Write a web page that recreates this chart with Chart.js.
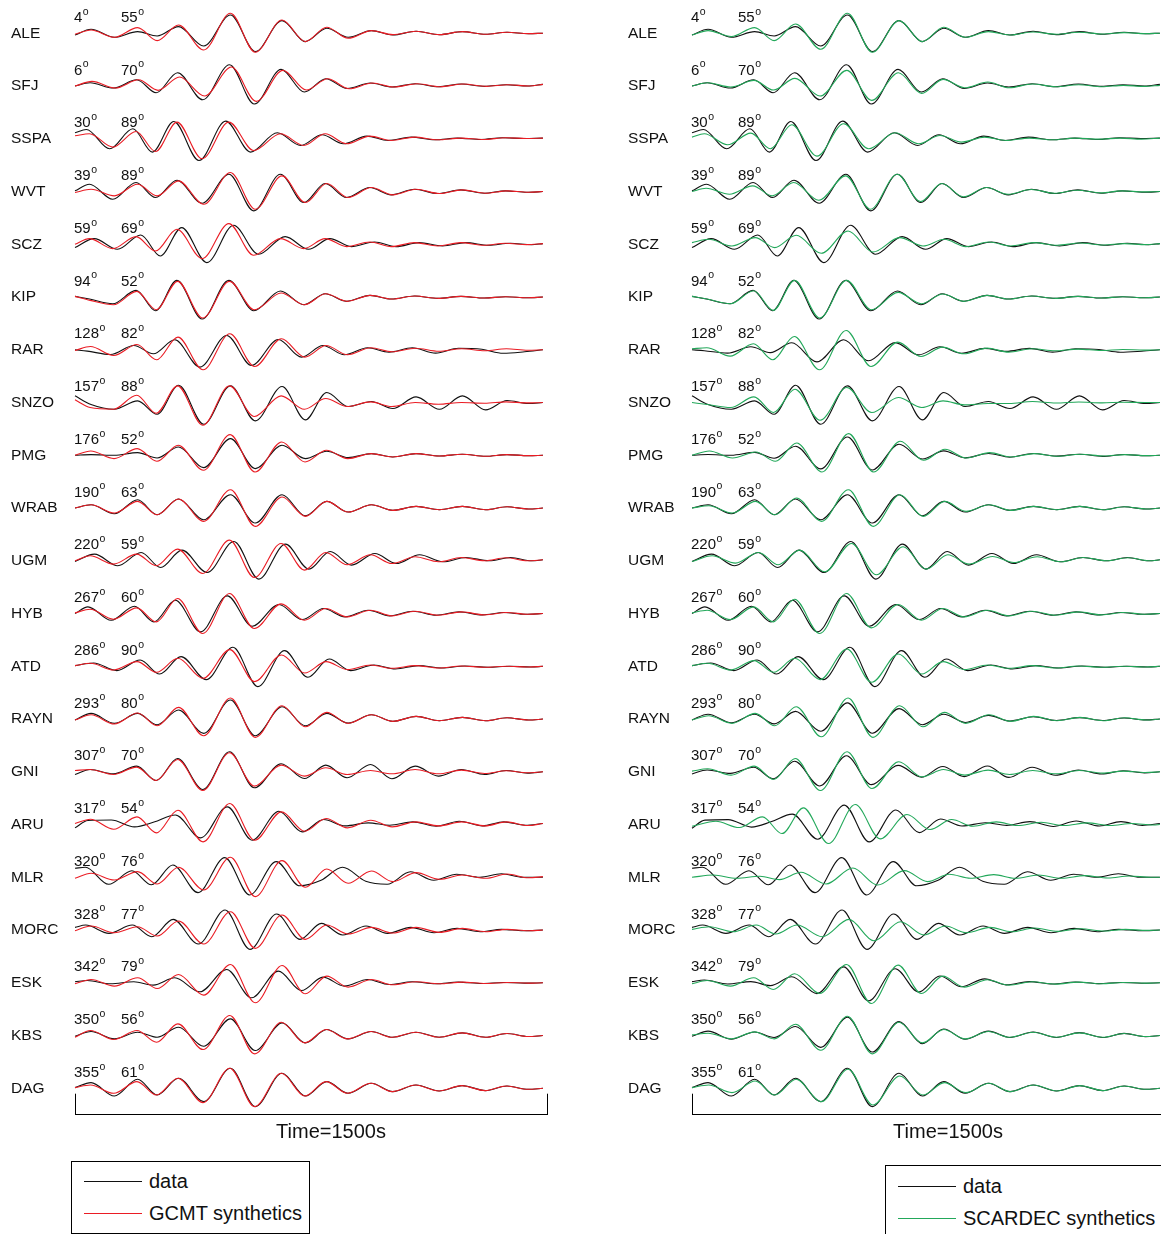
<!DOCTYPE html>
<html>
<head>
<meta charset="utf-8">
<script src="https://cdn.jsdelivr.net/npm/chart.js@4.4.1/dist/chart.umd.min.js"></script>
<style>
  html, body { margin: 0; padding: 0; background: #fff; }
  body { width: 1161px; height: 1234px; position: relative; overflow: hidden;
         font-family: 'Liberation Sans', Arial, Helvetica, sans-serif; color: #111; }
  canvas { position: absolute; top: 0; }
  #gcmtChart { left: 0; }
  #scardecChart { left: 617px; }
  .legend-box { position: absolute; border: 1px solid #000; background: #fff; }
  .legend-line { position: absolute; height: 0; border-top: 1px solid; }
  .legend-text { position: absolute; font-size: 20px; line-height: 22px; white-space: nowrap; }
</style>
</head>
<body>
<canvas id="gcmtChart" width="560" height="1234"></canvas>
<canvas id="scardecChart" width="560" height="1234"></canvas>

<div class="legend-box" style="left:71px;top:1161px;width:237px;height:71px">
  <div class="legend-line" style="left:12px;top:19px;width:58px;border-color:#111"></div>
  <div class="legend-text" style="left:77px;top:8px">data</div>
  <div class="legend-line" style="left:12px;top:51px;width:58px;border-color:#ea1c24"></div>
  <div class="legend-text" style="left:77px;top:40px">GCMT synthetics</div>
</div>
<div class="legend-box" style="left:885px;top:1165px;width:300px;height:100px">
  <div class="legend-line" style="left:12px;top:20px;width:58px;border-color:#111"></div>
  <div class="legend-text" style="left:77px;top:9px">data</div>
  <div class="legend-line" style="left:12px;top:52px;width:58px;border-color:#22a85a"></div>
  <div class="legend-text" style="left:77px;top:41px">SCARDEC synthetics</div>
</div>

<script>
// stations, azimuth / distance in degrees
const stations = ['ALE', 'SFJ', 'SSPA', 'WVT', 'SCZ', 'KIP', 'RAR', 'SNZO', 'PMG', 'WRAB', 'UGM',
  'HYB', 'ATD', 'RAYN', 'GNI', 'ARU', 'MLR', 'MORC', 'ESK', 'KBS', 'DAG'];
const azimuths = [4, 6, 30, 39, 59, 94, 128, 157, 176, 190, 220, 267, 286, 293, 307, 317, 320, 328, 342, 350, 355];
const distances = [55, 70, 89, 89, 69, 52, 82, 88, 52, 63, 59, 60, 90, 80, 70, 54, 76, 77, 79, 56, 61];

// times (s) of the successive peaks/troughs, first and last are the window ends
const peakTimes = [0, 51, 125, 199, 261, 329, 409, 494, 573, 658, 732, 800, 868, 942, 1010, 1084, 1158, 1231, 1305, 1373, 1441, 1487];

// amplitudes at those peaks, one row per station
const dataAmp = [
  [-1.7, 4, -4, 1.7, -2.7, 6.7, -12.7, 18.3, -18.3, 12.7, -8.3, 5, -4, 2.7, -1.7, 2, -1.3, 1.7, -1, 1, -0.3, 0],
  [0, 3.3, -2, 6.3, -6.7, 13.3, -13.7, 21.3, -18, 16.7, -6, 7.3, -2.5, 3, -1, 2.3, -0.7, 2, -0.3, 1.3, 0, 1.7],
  [6, 9.3, -10, 10, -13.3, 17.3, -21.7, 17.7, -13.3, 6, -6.7, 4, -5, 2.7, -1.7, 1.7, -1, 0.7, -0.7, 1, 0.3, 0.7],
  [0.7, 7.3, -7.7, 9, -6, 11.3, -11.7, 17.3, -19.3, 17.3, -11, 8, -6, 4, -3.3, 2.3, -2, 1.7, -1.7, 0.7, -0.7, 0],
  [-3.3, 5.7, -5, 9.3, -11.7, 16.7, -18.3, 19, -10, 7.7, -5, 5.7, -2.3, 2.3, -2.3, 1.7, -1.7, 1.7, -1, 1, -0.3, 0.7],
  [0.7, -2, -6.7, 6.7, -13.7, 16.7, -22, 16.7, -13.7, 6, -7.7, 3.3, -4.3, 1.7, -2, 1, -1.3, 0.7, -1, 0.3, -0.7, 0],
  [0, -1.3, -4.7, 4.3, -4, 10, -17.3, 14.3, -15.7, 10.3, -7.3, 4.3, -5, 2, -2.3, 2, -3.3, 1.5, 0.5, -3.5, -2, 0],
  [6.7, -2, -6.7, 1.7, -11.7, 17.3, -21.7, 16.7, -18.3, 16, -17.3, 10, -4, 1, -6, 5.7, -6.7, 6.7, -7.3, 2, -1, 0],
  [0, 0.7, 0, 2.7, -2.7, 8.3, -12.3, 16.7, -13.3, 10, -3.3, 4, -2.3, 1.7, -1.7, 1.7, -0.7, 1, -1, 0.7, -0.3, 0],
  [0, 3.3, -5.7, 8.3, -6.7, 9, -11.7, 13.3, -15, 13.3, -7.7, 6.7, -4, 3.3, -2.3, 1.7, -1.7, 1.7, -1.7, 1.3, -1, 0],
  [-0.7, 6.7, -5, 8.3, -6.7, 10.7, -11.7, 19.3, -18.3, 16.7, -8.3, 9.3, -4.3, 7.3, -2.7, 6, -1, 3.3, 0, 3.3, 0, 1],
  [0, 6.7, -6.7, 7.3, -8.3, 13.3, -18.3, 17.7, -12.7, 9, -6, 5, -3.3, 3.3, -2.3, 2.3, -1.7, 1.7, -1.3, 1, -0.7, 0],
  [0.7, 3.3, -4.3, 6.3, -7.7, 9.7, -13.3, 19, -20.3, 15.7, -11, 7.3, -4.3, 1.3, -2.7, 0.7, -1.7, 0.3, -1, 0, -0.7, 0],
  [-1, 5.7, -4.3, 5.7, -5.7, 9, -14.3, 19, -16.7, 12.3, -6.7, 5.7, -4, 4.3, -2.3, 2.7, -1.7, 1.7, -1.7, 1.3, -1, 0],
  [-2.7, 2.3, -2, 5.7, -8.7, 13.3, -17.7, 20, -16, 8, -6.7, 6.7, -6, 7.3, -7, 5.7, -4.3, 2.3, -2.7, 1.3, -1.3, 0],
  [-3.3, 4, 4.5, -2.3, 2.5, 9.5, -13.3, 17.7, -15.7, 13.3, -7.3, 5, -1.3, 1.7, -0.7, 2.7, -1.7, 3.3, -1.3, 2.7, -0.7, 1],
  [9, 10, -7, 6.5, -7.5, 12.3, -15.3, 19.7, -17.7, 15.7, -8.5, -3, 10, -4, -7, 5.5, -3, 3, 0, 3.5, 0, 0],
  [2.7, 5, -3.3, 5, -6.7, 10.7, -14, 20, -19.3, 16, -9.3, 6.7, -5, 4, -3.3, 2.7, -2.7, 1.7, -1.7, 0.7, -0.7, 0],
  [1, 2.3, -1, 1, -2.3, 5, -9, 13.3, -15, 11.7, -7.7, 5.7, -3.3, 3.3, -1.7, 1, -1, 0.7, -0.7, 0.3, -0.3, 0],
  [-0.7, 4, -3.3, 3.3, -1.7, 8.3, -10.7, 16.7, -15, 12.7, -7.3, 6, -3.3, 4, -1.7, 3.3, -1.7, 2.7, -1.7, 2, -1, 0],
  [0.7, 5.7, -7.7, 9, -6.7, 10, -13.3, 20, -18.3, 15, -7.7, 6.7, -5, 5, -3.3, 3.3, -2.7, 2.7, -2.3, 2.3, -1, 0]
];

const gcmtAmp = [
  [-1, 3.3, -4, 5.7, -7.3, 8.3, -16.7, 20, -19, 13.3, -8.3, 6, -5, 2.7, -1.3, 2, -1.3, 1.7, -1, 1, -0.3, 0],
  [0, 4.7, -2, 6.3, -4.3, 9, -10, 19, -15.3, 15.7, -4, 7.3, -2.7, 3, -1, 2.3, -0.7, 2, -0.3, 1.3, 0, 1.7],
  [3, 5, -8.3, 7.3, -12.7, 16.7, -20, 16.7, -11.7, 5, -6.7, 5, -5, 2.7, -1.7, 1.7, -1, 0.7, -0.7, 1, 0.3, 0.7],
  [-1, 2.3, -4.3, 7.3, -4.3, 10.7, -12.7, 19, -17.7, 15.7, -11, 8, -6, 4, -3.3, 2.3, -2, 1.7, -1.7, 0.7, -0.7, 0],
  [0, 5.7, -4.3, 7.7, -6.7, 15, -14.3, 20.7, -11, 5.7, -4.3, 5.7, -2.3, 2.3, -2.3, 1.7, -1.7, 1.7, -1, 1, -0.3, 0.7],
  [0.7, -3.3, -7.7, 5.7, -12.7, 15.7, -21, 15.7, -12.7, 4, -7.7, 3.3, -4.3, 1.7, -2, 1, -1.3, 0.7, -1, 0.3, -0.7, 0],
  [-0.7, 3.3, -5.7, 5.3, -10, 12.7, -20, 16, -16.7, 11, -7.3, 4.3, -5, 2, -2, 1.5, -1.5, 1, -1, 1, -0.5, 0],
  [2.7, -5, -6.7, 7.3, -10.7, 16.7, -22.7, 16.7, -14, 6.7, -6.7, 4, -4, 0.7, -4, 0, -1.7, 0, -0.7, 0.7, -0.3, 0],
  [0, 4.3, -3.3, 6.7, -6, 10, -15, 20.7, -16.7, 13.3, -6.7, 5, -3.3, 1.7, -1.7, 1.7, -0.7, 1, -1, 0.7, -0.3, 0],
  [0, 3.3, -5, 6.7, -6.7, 9, -13.3, 18.3, -18.3, 11, -8.3, 6.7, -4, 3.3, -2.3, 1.7, -1.7, 1.7, -1.7, 1.3, -1, 0],
  [0, 5, -3.3, 6.7, -5, 11.7, -12.7, 20.7, -16.7, 17.3, -9.3, 8.3, -4, 6, -2.7, 4, -1, 3.3, 0, 3, 0, 1],
  [0.7, 4.3, -5.7, 5.7, -8.3, 15, -20, 20, -15, 9.7, -6.7, 5, -3.3, 3.3, -2.3, 2.3, -1.7, 1.7, -1.3, 1, -0.7, 0],
  [0.7, 3, -3.7, 4.7, -6, 8, -12, 16.7, -15.3, 11.3, -6.7, 4.7, -3.3, 1.3, -2, 0.7, -1.7, 0.3, -1, 0, -0.7, 0],
  [-1, 4.3, -5, 6, -6.7, 11.7, -16.7, 21, -18.3, 13.3, -7.7, 6.7, -4.3, 4.3, -2.3, 2.7, -1.7, 1.7, -1.7, 1.3, -1, 0],
  [1.3, 2.3, -2.7, 4.7, -8.7, 12.3, -18.7, 19, -14.3, 6.7, -4.3, 4, -2.7, 1.3, -2, 2.3, -2, 1.7, -1.7, 1, -1, 0],
  [1, 5.3, -4.7, 7.7, -8.3, 14.3, -17.3, 21, -15.7, 12.7, -6.7, 6, -3.3, 4.3, -2.3, 2.7, -1.3, 2.7, -1.3, 2.7, -1, 1],
  [-1, 4, -2.7, 5.7, -6.7, 10, -12.7, 20, -19.3, 16.7, -10, 8.3, -6, 6.3, -4.3, 4.7, -2, 2.3, -1, 3.3, -0.5, 0.7],
  [-0.7, 4, -2.7, 3.3, -6, 9, -14, 18.3, -18.3, 15, -9.3, 5, -4, 2.7, -3, 2.7, -2.3, 1.7, -1.7, 0.7, -0.7, 0],
  [-1, 3.3, -3.3, 5, -5.7, 8.3, -12.3, 18.3, -20, 17.3, -11, 6.7, -4.3, 3.3, -2, 1, -1, 0.7, -0.7, 0.3, -0.3, 0],
  [-1.7, 5, -4, 5, -6.7, 11.7, -14, 20, -18.3, 13.3, -7.3, 6, -3.3, 4, -1.7, 3.3, -1.7, 2.7, -1.7, 2, -1, 0],
  [0.7, 3.3, -5, 6.7, -6.7, 10, -14.3, 20, -18.3, 15, -7.7, 6.7, -5, 5, -3.3, 3.3, -2.7, 2.7, -2.3, 2.3, -1, 0]
];

const scardecAmp = [
  [-1.7, 2.7, -3.3, 5.7, -7.3, 9.3, -16, 20, -19, 12.7, -8.3, 6, -4, 1.7, -1.7, 1.3, -1, 1, -0.7, 0.7, -0.3, 0],
  [0, 3.3, -1, 5.7, -4, 7.7, -10, 15.7, -14.3, 13.3, -7.3, 6.7, -1.7, 4, -1.7, 2, -0.7, 1.3, -0.7, 0.7, -0.3, 0.7],
  [1.7, 5, -6, 5.7, -10, 14, -17.3, 15, -10, 6, -5, 3.3, -3.3, 1.7, -1.7, 0.7, -1, 0.7, -0.3, 0.7, -0.3, 0.7],
  [0, 3.3, -2.7, 5.7, -4.3, 9, -8.7, 15.7, -17.7, 17.3, -10, 8, -5.3, 4, -2.7, 2, -1.7, 1.3, -1.3, 0.7, -0.3, 0],
  [1.7, 5, -1.7, 6.7, -3.3, 9, -9, 13.3, -7.7, 6.7, -1.7, 5, -2.3, 2.3, -1.7, 1.7, -1, 1.3, -0.7, 0.7, -0.3, 0.7],
  [0.7, -2, -6.7, 6.3, -13.3, 16.7, -21, 16.7, -12.7, 4.7, -6.7, 3, -4.3, 1.7, -2, 1, -1.3, 0.7, -1, 0.3, -0.7, 0],
  [1, 2, -6.3, 6, -10, 13.3, -20, 19.3, -16.7, 7.7, -6.7, 2.7, -4, 1.7, -2.3, 1, -1, 0.7, -0.7, 0.3, -0.3, 0],
  [0, -2, -5, 5.7, -10, 13.3, -17.7, 15, -10, 5, -5, 1.7, -2.3, -1, -1, 1, -0.5, 0.5, -0.3, 0.3, 0, 0],
  [0, 4.3, -2.7, 3.3, -6, 12.3, -16.7, 21.7, -16.7, 14, -5, 6, -2.7, 2.7, -1.7, 1.7, -1, 1, -0.7, 0.7, -0.3, 0],
  [0, 2.3, -5, 6.7, -6.7, 10, -13.3, 18.3, -18.3, 13.3, -8.3, 6.7, -3.3, 3.3, -2.3, 1.7, -1.7, 1.7, -1.7, 1.3, -1, 0],
  [-0.7, 5, -2.3, 8.3, -4, 10.7, -11, 17.3, -14, 14, -8.3, 6, -3.3, 4.3, -1.7, 4, -1, 3.3, 0, 3, 0, 1],
  [0.7, 3.3, -6, 6.7, -8.3, 14.3, -20, 20, -14.3, 9, -6.7, 5, -3.3, 3.3, -2.3, 2.3, -1.7, 1.7, -1.3, 1, -0.7, 0],
  [0.7, 3, -3.7, 5.7, -6, 8, -13.3, 17.3, -16, 12.3, -7.7, 4.7, -3.3, 1.3, -2, 0.7, -1.7, 0.3, -1, 0, -0.7, 0],
  [-1, 3.3, -4.3, 5.7, -6.7, 12.3, -17.7, 21, -18.3, 13.3, -7.7, 6.7, -4.3, 4.3, -2.3, 2.7, -1.7, 1.7, -1.7, 1.3, -1, 0],
  [0.7, 3, -3.3, 5.7, -7.7, 13.3, -18.7, 20, -16.7, 10, -5, 2.3, -3.3, 1.7, -2.7, 1.3, -2, 1.3, -1.3, 0.7, -0.7, 0],
  [-1.7, 3.3, -3, 7.7, -9, 16.7, -19, 20, -14.3, 10, -5, 5, -1.7, 2.7, -1, 2.3, -1, 1.7, -1, 1, -0.5, 0],
  [0, 2.3, -1, 1, -2.3, 5, -6.7, 9.3, -7.7, 6.7, -4.3, 3, -1, 2.7, -1, 2.3, -1, 1.7, -0.7, 1.3, 0, 0],
  [0.7, 3.3, -1.7, 5, -4, 5, -6.7, 10.7, -10.7, 8.3, -5, 4, -2.7, 2.7, -1.7, 2, -1.3, 1.3, -1, 0.7, -0.3, 0],
  [-1, 2.3, -3.3, 5, -6.7, 9, -10.7, 18.3, -20.7, 17.7, -10.7, 6.7, -4.3, 3, -2.3, 1, -1.3, 0.7, -1, 0.3, -0.3, 0],
  [0.7, 2.3, -3.3, 3.7, -3.3, 11.3, -14.7, 19.3, -18.3, 13.3, -7.3, 6, -3.3, 4, -1.7, 3.3, -1.7, 2.7, -1.7, 2, -1, 0],
  [0.7, 3.3, -4.3, 7.3, -6.7, 9, -13.3, 19, -16.7, 12.3, -6.7, 5.7, -4.3, 5, -3.3, 3.3, -2.7, 2.7, -2.3, 2.3, -1, 0]
];

// time shift (s) of each trace against peakTimes
const dataShift = [0, -3, -15, -5, 10, -5, -12, 0, 0, 0, 11, -10, 8, 0, -3, -10, -18, -17, -12, 0, 0];
const gcmtShift = [0, 3, -5, 0, -5, -3, -2, -3, -1, 0, -3, -3, -2, 0, -3, -2, 0, 0, 0, -2, -2];
const scardecShift = [0, -2, -12, -6, 2, -3, -4, -2, 4, 3, 13, -3, -2, 2, -1, 25, 17, 5, -3, 0, 2];
// data normalisation used in the SCARDEC panel
const dataScaleScardec = [1, 1, 1, 1, 1, 1, 0.7, 1, 1.1, 1, 1, 1, 1, 0.85, 0.8, 1.1, 1, 1, 1.2, 1.1, 1];

const FONT = "'Liberation Sans', Arial, Helvetica, sans-serif";
const AMP_PER_ROW = 52.75;
const DATA_COLOR = '#111111';
const GCMT_COLOR = '#ea1c24';
const SCARDEC_COLOR = '#22a85a';

Chart.defaults.font.family = FONT;
Chart.defaults.color = '#111';

function trace(amps, shift, scale, row, color, order) {
  const last = peakTimes.length - 1;
  return {
    data: amps.map((a, k) => ({
      x: (k === 0 || k === last) ? peakTimes[k] : peakTimes[k] + shift,
      y: row - a * scale / AMP_PER_ROW
    })),
    borderColor: color,
    borderWidth: 1.1,
    pointRadius: 0,
    cubicInterpolationMode: 'monotone',
    fill: false,
    clip: false,
    order: order
  };
}

function buildDatasets(synthAmp, synthShift, synthColor, dataScale) {
  const sets = [];
  stations.forEach((name, i) => {
    sets.push(trace(dataAmp[i], dataShift[i], dataScale ? dataScale[i] : 1, i, DATA_COLOR, 2));
    sets.push(trace(synthAmp[i], synthShift[i], 1, i, synthColor, 1));
  });
  return sets;
}

function drawDegree(ctx, value, x, y) {
  const txt = String(value);
  ctx.font = '15px ' + FONT;
  ctx.fillText(txt, x, y);
  const w = ctx.measureText(txt).width;
  ctx.font = '10.5px ' + FONT;
  ctx.fillText('o', x + w + 0.5, y - 6);
}

// azimuth/distance notes and the time bracket
const stationNotes = {
  id: 'stationNotes',
  afterDatasetsDraw(chart) {
    const { ctx, scales: { x, y }, chartArea } = chart;
    const x0 = x.getPixelForValue(0);
    ctx.save();
    ctx.fillStyle = '#111';
    ctx.textAlign = 'left';
    ctx.textBaseline = 'middle';
    stations.forEach((s, i) => {
      const yy = y.getPixelForValue(i) - 15.5;
      drawDegree(ctx, azimuths[i], x0 - 1, yy);
      drawDegree(ctx, distances[i], x0 + 46, yy);
    });

    ctx.strokeStyle = '#000';
    ctx.lineWidth = 1;
    [0, 1500].forEach(t => {
      const px = Math.round(x.getPixelForValue(t)) + 0.5;
      ctx.beginPath();
      ctx.moveTo(px, chartArea.bottom);
      ctx.lineTo(px, chartArea.bottom - 21);
      ctx.stroke();
    });

    ctx.font = '20px ' + FONT;
    ctx.textAlign = 'center';
    ctx.fillText('Time=1500s', x.getPixelForValue(750) + 20, chartArea.bottom + 18);
    ctx.restore();
  }
};

function makeChart(id, datasets) {
  return new Chart(document.getElementById(id), {
    type: 'line',
    data: { datasets: datasets },
    options: {
      responsive: false,
      animation: false,
      events: [],
      layout: { padding: { left: 11, right: 13, top: 1, bottom: 119.3 } },
      plugins: { legend: { display: false }, tooltip: { enabled: false } },
      scales: {
        x: {
          type: 'linear',
          min: 0,
          max: 1500,
          ticks: { display: false },
          grid: { display: false, drawTicks: false },
          border: { display: true, color: '#000', width: 1 },
          afterFit: (s) => { s.height = 0; s.paddingLeft = 0; s.paddingRight = 0; }
        },
        y: {
          type: 'linear',
          reverse: true,
          min: -0.6123,
          max: 20.5,
          afterBuildTicks: (s) => { s.ticks = stations.map((n, i) => ({ value: i })); },
          afterFit: (s) => { s.width = 64; s.paddingTop = 0; s.paddingBottom = 0; },
          ticks: {
            callback: (v) => stations[v],
            crossAlign: 'far',
            autoSkip: false,
            padding: 0,
            color: '#111',
            font: { size: 15.5 }
          },
          grid: { display: false, drawTicks: false },
          border: { display: false }
        }
      }
    },
    plugins: [stationNotes]
  });
}

makeChart('gcmtChart', buildDatasets(gcmtAmp, gcmtShift, GCMT_COLOR, null));
makeChart('scardecChart', buildDatasets(scardecAmp, scardecShift, SCARDEC_COLOR, dataScaleScardec));
</script>
</body>
</html>
